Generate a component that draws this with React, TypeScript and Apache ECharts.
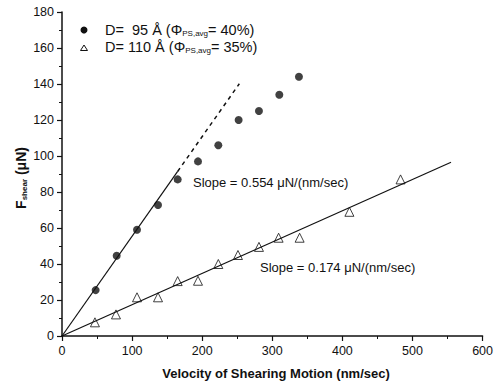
import React, { useEffect, useRef } from "react";
import * as echarts from "echarts";

// D = 95 Å (filled circles)
const velocity95 = [48, 78, 107, 137, 165, 194, 223, 252, 281, 310, 338];
const force95 = [25.5, 44.6, 59, 72.8, 87, 97, 106, 120, 125, 134, 144];
// D = 110 Å (open triangles)
const velocity110 = [47, 77, 107, 137, 165, 194, 223, 251, 281, 309, 339, 410, 483];
const force110 = [7.6, 12, 21.5, 21.5, 30.5, 30.7, 40, 45, 49.5, 54.6, 54.6, 69, 87];
// linear fits through origin
const slope95 = 0.554;
const fit95SolidX = [0, 165];
const fit95DashX = [165, 253];
const slope110 = 0.174;
const fit110X = [0, 555];

const xTicks = [0, 100, 200, 300, 400, 500, 600];
const yTicks = [0, 20, 40, 60, 80, 100, 120, 140, 160, 180];

const FONT = "'Liberation Sans', Arial, sans-serif";

export default function App() {
  const ref = useRef<HTMLDivElement>(null);
  useEffect(() => {
    if (!ref.current) return;
    const chart = echarts.init(ref.current, undefined, { renderer: "svg" });
    const fitLine = (xs: number[], k: number) => xs.map((x) => [x, +(x * k).toFixed(2)]);
    const legendRich = {
      m: { fontFamily: FONT, fontSize: 14.5, fill: "#111" },
      s: { fontFamily: FONT, fontSize: 8, fill: "#111", verticalAlign: "bottom", padding: [7, 0, 0, 0] },
    };
    chart.setOption({
      animation: false,
      backgroundColor: "#fff",
      grid: { left: 62, right: 10, top: 12, bottom: 52 },
      xAxis: {
        type: "value",
        min: xTicks[0],
        max: xTicks[xTicks.length - 1],
        interval: 100,
        axisLine: { show: true, lineStyle: { color: "#111", width: 1.5 } },
        axisTick: { show: true, inside: false, length: 5, lineStyle: { color: "#111", width: 1.2 } },
        minorTick: { show: true, splitNumber: 2, length: 3, lineStyle: { color: "#111" } },
        splitLine: { show: false },
        axisLabel: { color: "#111", fontFamily: FONT, fontSize: 12.5, margin: 8 },
      },
      yAxis: {
        type: "value",
        min: yTicks[0],
        max: yTicks[yTicks.length - 1],
        interval: 20,
        axisLine: { show: true, lineStyle: { color: "#111", width: 1.5 } },
        axisTick: { show: true, inside: false, length: 5, lineStyle: { color: "#111", width: 1.2 } },
        minorTick: { show: true, splitNumber: 2, length: 3, lineStyle: { color: "#111" } },
        splitLine: { show: false },
        axisLabel: { color: "#111", fontFamily: FONT, fontSize: 12.5, margin: 8 },
      },
      series: [
        {
          type: "line",
          data: fitLine(fit95SolidX, slope95),
          symbol: "none",
          lineStyle: { color: "#111", width: 1.2 },
          silent: true,
        },
        {
          type: "line",
          data: fitLine(fit95DashX, slope95),
          symbol: "none",
          lineStyle: { color: "#111", width: 1.5, type: [4, 4] },
          silent: true,
        },
        {
          type: "line",
          data: fitLine(fit110X, slope110),
          symbol: "none",
          lineStyle: { color: "#111", width: 1.2 },
          silent: true,
        },
        {
          type: "scatter",
          data: velocity95.map((x, i) => [x, force95[i]]),
          symbol: "circle",
          symbolSize: 8,
          itemStyle: { color: "#111" },
        },
        {
          type: "scatter",
          data: velocity110.map((x, i) => [x, force110[i]]),
          symbol: "triangle",
          symbolSize: 9,
          itemStyle: { color: "#fff", borderColor: "#111", borderWidth: 1 },
        },
      ],
      graphic: [
        { type: "circle", shape: { cx: 84, cy: 30, r: 3.5 }, style: { fill: "#111" } },
        {
          type: "polygon",
          shape: { points: [[84, 45], [80.5, 50.5], [87.5, 50.5]] },
          style: { fill: "#fff", stroke: "#111", lineWidth: 1 },
        },
        {
          type: "text",
          x: 105,
          y: 30,
          style: { text: "{m|D=  95 Å (Φ}{s|PS,avg}{m|= 40%)}", verticalAlign: "middle", rich: legendRich },
        },
        {
          type: "text",
          x: 105,
          y: 47,
          style: { text: "{m|D= 110 Å (Φ}{s|PS,avg}{m|= 35%)}", verticalAlign: "middle", rich: legendRich },
        },
        {
          type: "text",
          x: 193,
          y: 182,
          style: {
            text: "Slope = 0.554 μN/(nm/sec)",
            fontFamily: FONT,
            fontSize: 13,
            fill: "#111",
            verticalAlign: "middle",
          },
        },
        {
          type: "text",
          x: 260,
          y: 267,
          style: {
            text: "Slope = 0.174 μN/(nm/sec)",
            fontFamily: FONT,
            fontSize: 13,
            fill: "#111",
            verticalAlign: "middle",
          },
        },
        {
          type: "text",
          x: 276,
          y: 373,
          style: {
            text: "Velocity of Shearing Motion (nm/sec)",
            fontFamily: FONT,
            fontSize: 13,
            fontWeight: "bold",
            fill: "#111",
            align: "center",
            verticalAlign: "middle",
          },
        },
        {
          type: "text",
          x: 21,
          y: 178,
          rotation: Math.PI / 2,
          style: {
            text: "{b|F}{s|shear}{b| (μN)}",
            align: "center",
            verticalAlign: "middle",
            rich: {
              b: { fontFamily: FONT, fontSize: 14, fontWeight: "bold", fill: "#111" },
              s: { fontFamily: FONT, fontSize: 8, fontWeight: "bold", fill: "#111", verticalAlign: "bottom", padding: [6, 0, 0, 0] },
            },
          },
        },
      ],
    });
    return () => chart.dispose();
  }, []);
  return <div ref={ref} style={{ width: 496, height: 388, position: "absolute", left: 0, top: 0 }} />;
}
